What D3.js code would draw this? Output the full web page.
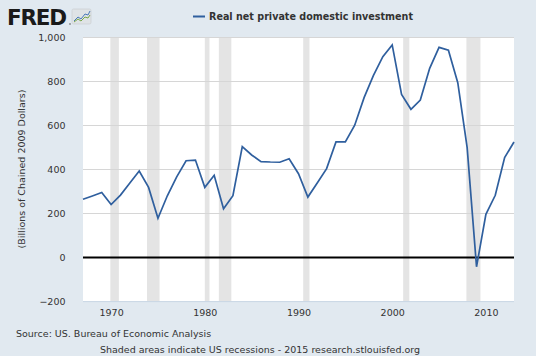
<!DOCTYPE html>
<html><head><meta charset="utf-8">
<script src="https://cdn.jsdelivr.net/npm/d3@7"></script>
<style>
html,body{margin:0;padding:0;background:#e1e9f0;}
svg{display:block;font-family:"DejaVu Sans",Verdana,sans-serif;}
</style></head>
<body>
<script>
const years = [1967,1968,1969,1970,1971,1972,1973,1974,1975,1976,1977,1978,1979,1980,1981,1982,1983,1984,1985,1986,1987,1988,1989,1990,1991,1992,1993,1994,1995,1996,1997,1998,1999,2000,2001,2002,2003,2004,2005,2006,2007,2008,2009,2010,2011,2012,2013];
const investment = [264,279,295,240,283,338,392,318,178,280,366,439,442,318,373,221,280,503,465,435,433,432,448,380,274,338,403,524,524,600,725,826,911,964,740,672,714,858,953,940,793,498,-42,196,282,453,524];
const recessionStarts = [1969.92,1973.83,1980.0,1981.5,1990.5,2001.17,2007.92];
const recessionEnds   = [1970.83,1975.17,1980.5,1982.83,1991.17,2001.83,2009.42];
const yTicks = [-200,0,200,400,600,800,1000];
const xTicks = [1970,1980,1990,2000,2010];
const seriesName = "Real net private domestic investment";
const yTitle = "(Billions of Chained 2009 Dollars)";
const sourceText = "Source: US. Bureau of Economic Analysis";
const noteText = "Shaded areas indicate US recessions - 2015 research.stlouisfed.org";

const W = 536, H = 356;
const m = {left:83, right:22, top:37, bottom:54.4};
const svg = d3.select("body").append("svg").attr("width",W).attr("height",H);
svg.append("rect").attr("width",W).attr("height",H).attr("fill","#e1e9f0");

const x = d3.scaleLinear().domain([1967,2013]).range([m.left, W-m.right]);
const y = d3.scaleLinear().domain([-200,1000]).range([H-m.bottom, m.top]);

// plot background
svg.append("rect").attr("x",m.left).attr("y",m.top)
  .attr("width",W-m.left-m.right).attr("height",H-m.top-m.bottom).attr("fill","#ffffff");

// recessions
svg.append("g").selectAll("rect").data(recessionStarts).join("rect")
  .attr("x",(d)=>x(d)).attr("width",(d,i)=>x(recessionEnds[i])-x(d))
  .attr("y",m.top).attr("height",H-m.top-m.bottom).attr("fill","#e4e4e4");

// grid
svg.append("g").selectAll("line").data(yTicks.filter(t=>t!==0 && t!==-200)).join("line")
  .attr("x1",m.left).attr("x2",W-m.right)
  .attr("y1",d=>Math.round(y(d))+0.5).attr("y2",d=>Math.round(y(d))+0.5)
  .attr("stroke","#d6d6d6").attr("stroke-width",1.2);

// bottom axis line
svg.append("line").attr("x1",m.left).attr("x2",W-m.right)
  .attr("y1",y(-200)).attr("y2",y(-200)).attr("stroke","#c8d6e4").attr("stroke-width",1);

// zero line
svg.append("line").attr("x1",m.left).attr("x2",W-m.right)
  .attr("y1",y(0)).attr("y2",y(0)).attr("stroke","#000").attr("stroke-width",1.8);

// y axis labels
const yAxis = d3.axisLeft(y).tickValues(yTicks).tickSize(0).tickPadding(17.5).tickFormat(d3.format(","));
const gy = svg.append("g").attr("transform",`translate(${m.left},0)`).call(yAxis);
gy.select(".domain").remove();
gy.selectAll("text").attr("fill","#333").style("font-size","9.5px").style("font-family","'DejaVu Sans',sans-serif");

// x axis labels
const xAxis = d3.axisBottom(x).tickValues(xTicks).tickSize(0).tickPadding(8).tickFormat(d3.format("d"));
const gx = svg.append("g").attr("transform",`translate(0,${H-m.bottom})`).call(xAxis);
gx.select(".domain").remove();
gx.selectAll("text").attr("fill","#333").style("font-size","9.5px").style("font-family","'DejaVu Sans',sans-serif");

// line
const line = d3.line().x((d,i)=>x(years[i])).y(d=>y(d));
svg.append("path").datum(investment).attr("d",line)
  .attr("fill","none").attr("stroke","#2f5f9e").attr("stroke-width",1.7).attr("stroke-linejoin","miter");

// y title
svg.append("text").attr("transform",`translate(21,169) rotate(-90)`)
  .attr("text-anchor","middle").attr("dominant-baseline","central")
  .attr("fill","#333").style("font-size","9.5px").text(yTitle);

// legend
svg.append("line").attr("x1",193).attr("x2",205).attr("y1",16.5).attr("y2",16.5)
  .attr("stroke","#2f5f9e").attr("stroke-width",2);
svg.append("text").attr("x",209).attr("y",16.5).attr("dominant-baseline","central")
  .attr("fill","#333").style("font-size","9.6px").style("font-weight","bold").text(seriesName);

// footer
svg.append("text").attr("x",16).attr("y",333.5).attr("dominant-baseline","central")
  .attr("fill","#333").style("font-size","9.5px").text(sourceText);
svg.append("text").attr("x",260).attr("y",349).attr("text-anchor","middle").attr("dominant-baseline","central")
  .attr("fill","#333").style("font-size","9.5px").text(noteText);

// FRED logo
svg.append("text").attr("x",7).attr("y",25).attr("fill","#1a1a1a")
  .style("font-size","21.5px").style("font-weight","900").style("letter-spacing","-1.2px")
  .style("font-family","'DejaVu Sans',sans-serif").text("FRED");
svg.append("circle").attr("cx",70).attr("cy",24).attr("r",0.8).attr("fill","#555");
const icon = svg.append("g").attr("transform","translate(72,9)");
icon.append("rect").attr("width",19).attr("height",15).attr("rx",1.5).attr("fill","#dfe3e6").attr("stroke","#c7cbcf").attr("stroke-width",0.6);
icon.append("path").attr("d","M2,12 L6,8 L9,10 L13,5 L16,6 L18,2").attr("fill","none").attr("stroke","#4a79b8").attr("stroke-width",1);
icon.append("path").attr("d","M2,13 L6,10 L9,12 L13,8 L16,9 L18,6").attr("fill","none").attr("stroke","#7aa84a").attr("stroke-width",1);
</script>
</body></html>
